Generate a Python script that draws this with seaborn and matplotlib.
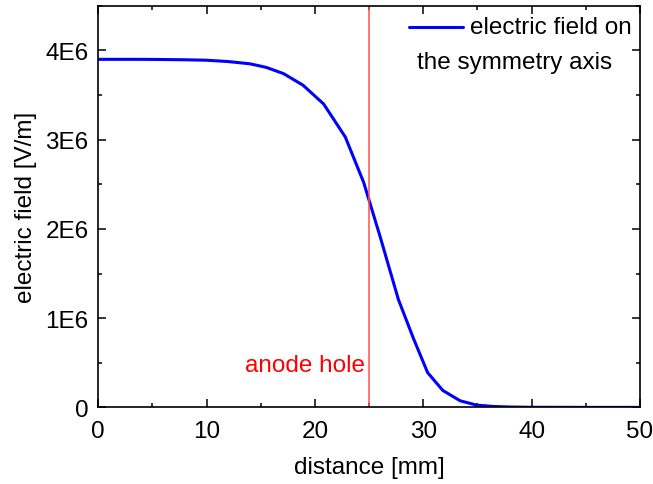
import numpy as np
import pandas as pd
import matplotlib
matplotlib.use("Agg")
import matplotlib.pyplot as plt
from matplotlib.ticker import MultipleLocator, FuncFormatter
import seaborn as sns

# distance along the symmetry axis [mm] and field [V/m]
distance_mm = [0, 2, 4, 6, 8, 10, 12, 14, 15.5, 17.1, 18.9, 20.8, 22.8, 24.5,
               26.0, 27.7, 29.1, 30.4, 31.8, 33.4, 34.9, 36.5, 38, 40, 45, 50]
field_Vm = [3.90e6, 3.90e6, 3.90e6, 3.898e6, 3.895e6, 3.89e6, 3.875e6, 3.85e6,
            3.81e6, 3.74e6, 3.61e6, 3.40e6, 3.03e6, 2.52e6, 1.92e6, 1.21e6,
            0.77e6, 0.39e6, 0.19e6, 0.074e6, 0.026e6, 0.01e6, 0.004e6,
            0.001e6, 0.0, 0.0]
anode_hole_mm = 25

df = pd.DataFrame({"distance": distance_mm, "field": field_Vm})

sns.set_theme(style="ticks")
plt.rcParams["font.family"] = ["Liberation Sans", "DejaVu Sans"]
plt.rcParams["text.color"] = "black"
plt.rcParams["axes.labelcolor"] = "black"
fs = 17.5

fig = plt.figure(figsize=(6.53, 4.85), dpi=100)
ax = fig.add_axes([0.1505, 0.158, 0.8295, 0.828])

sns.lineplot(data=df, x="distance", y="field", ax=ax, color="#0000ff",
             linewidth=2.2, legend=False)
ax.axvline(anode_hole_mm, color="#ff5050", linewidth=1.1)
ax.text(24.6, 0.474e6, "anode hole", color="#ff0000",
        fontsize=fs, ha="right", va="center")

ax.set_xlim(0, 50)
ax.set_ylim(0, 4.5e6)
ax.xaxis.set_major_locator(MultipleLocator(10))
ax.xaxis.set_minor_locator(MultipleLocator(5))
ax.yaxis.set_major_locator(MultipleLocator(1e6))
ax.yaxis.set_minor_locator(MultipleLocator(0.5e6))
ax.yaxis.set_major_formatter(FuncFormatter(
    lambda v, p: "0" if v == 0 else "{}E6".format(int(round(v / 1e6)))))

ax.tick_params(which="both", direction="in", top=True, right=True,
               colors="black", labelsize=fs, width=1.1)
ax.tick_params(which="major", length=5.5)
ax.tick_params(which="minor", length=3)
ax.tick_params(axis="x", which="major", pad=9)
ax.tick_params(axis="y", which="major", pad=7)
for s in ax.spines.values():
    s.set_color("black")
    s.set_linewidth(1.2)

ax.set_xlabel("distance [mm]", fontsize=fs, labelpad=10)
ax.set_ylabel("electric field [V/m]", fontsize=fs, labelpad=6)

# legend drawn by hand to match the two-line layout
ax.plot([0.574, 0.673], [0.946, 0.946], transform=ax.transAxes,
        color="#0000ff", linewidth=2.2)
ax.text(0.686, 0.946, "electric field on", transform=ax.transAxes,
        fontsize=fs, va="center", ha="left")
ax.text(0.588, 0.860, "the symmetry axis", transform=ax.transAxes,
        fontsize=fs, va="center", ha="left")

fig.savefig("out.png", dpi=100)
